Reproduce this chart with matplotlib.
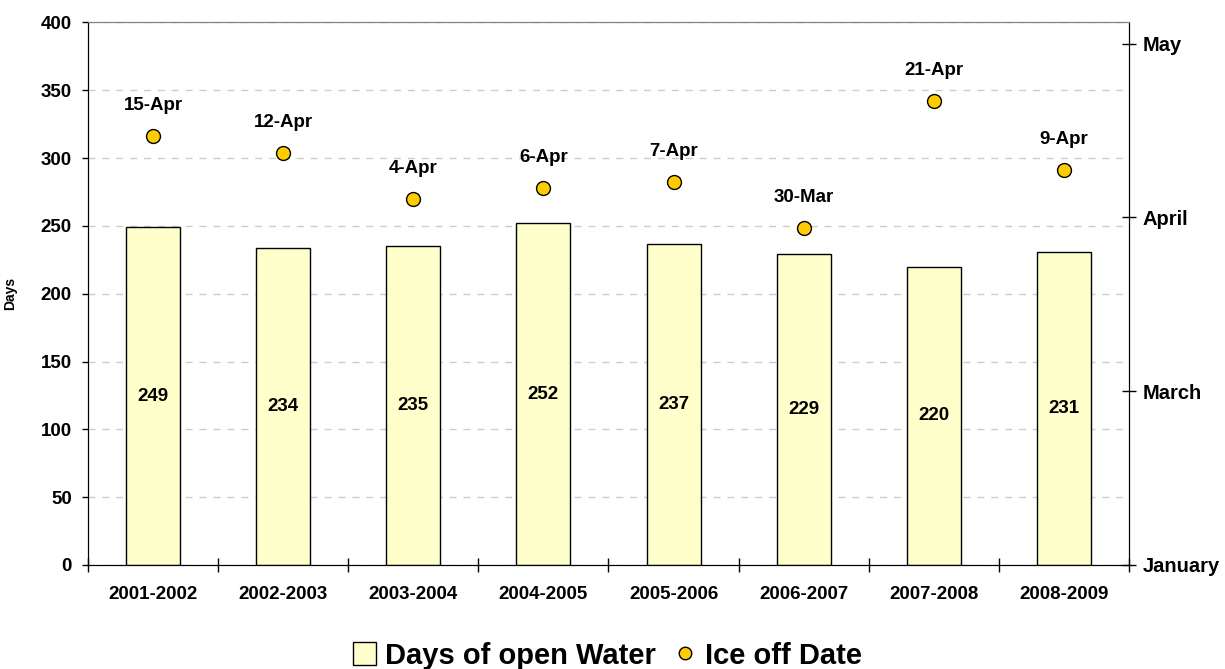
import datetime as dt

import numpy as np
import matplotlib.pyplot as plt
from matplotlib.lines import Line2D
from matplotlib.patches import Patch

plt.rcParams['font.family'] = ['Liberation Sans', 'DejaVu Sans']
plt.rcParams['font.weight'] = 'bold'

# data
seasons = ['2001-2002', '2002-2003', '2003-2004', '2004-2005',
           '2005-2006', '2006-2007', '2007-2008', '2008-2009']
open_days = [249, 234, 235, 252, 237, 229, 220, 231]
ice_off = ['15-Apr', '12-Apr', '4-Apr', '6-Apr', '7-Apr', '30-Mar', '21-Apr', '9-Apr']

# right axis (day of year) ticks and labels
month_ticks = [30.4, 60.6, 90.8, 121.0]
month_labels = ['January', 'March', 'April', 'May']

ice_doy = [dt.datetime.strptime(s + '-2001', '%d-%b-%Y').timetuple().tm_yday for s in ice_off]

fig = plt.figure(figsize=(12.25, 6.69), dpi=100)
ax = fig.add_axes([0.0718, 0.1555, 0.9216 - 0.0718, 0.9664 - 0.1555])
ax2 = ax.twinx()

x = np.arange(len(seasons))
bars = ax.bar(x, open_days, width=0.415, color='#FFFFCC', edgecolor='black',
              linewidth=1, zorder=3)
for xi, v in zip(x, open_days):
    ax.text(xi, v / 2, str(v), ha='center', va='center', fontsize=13.5,
            fontweight='bold', zorder=4)

ax.set_xlim(-0.5, len(seasons) - 0.5)
ax.set_ylim(0, 400)
ax.set_yticks(np.arange(0, 401, 50))
ax.yaxis.grid(True, color='#CCCCCC', linestyle=(0, (5, 5)), linewidth=1, zorder=0)
ax.set_axisbelow(True)
ax.tick_params(axis='y', direction='out', length=4.5, width=1, labelsize=13.5, pad=7)

ax.set_xticks(x)
ax.set_xticklabels(seasons)
ax.set_xticks(np.arange(-0.5, len(seasons)), minor=True)
ax.tick_params(axis='x', which='major', length=0, labelsize=13.5, pad=15)
ax.tick_params(axis='x', which='minor', direction='inout', length=9.5, width=1)

ax.set_ylabel('Days', fontsize=10, fontweight='bold')
ax.yaxis.set_label_coords(-0.068, 0.5)

ax2.plot(x, ice_doy, linestyle='none', marker='o', markersize=10,
         markerfacecolor='#FFCC00', markeredgecolor='black', markeredgewidth=1, zorder=5)
for xi, d, lab in zip(x, ice_doy, ice_off):
    ax2.annotate(lab, (xi, d), xytext=(0, 22), textcoords='offset points',
                 ha='center', va='center', fontsize=13.5, fontweight='bold')
ax2.set_ylim(30.4, 124.7)
ax2.set_yticks(month_ticks)
ax2.set_yticklabels(month_labels)
ax2.tick_params(axis='y', direction='inout', length=9.5, width=1, labelsize=14.5, pad=5)

for a in (ax, ax2):
    a.spines['top'].set_color('#808080')
    a.spines['left'].set_color('black')
    a.spines['right'].set_color('black')
    a.spines['bottom'].set_color('black')

handles = [Patch(facecolor='#FFFFCC', edgecolor='black', linewidth=1),
           Line2D([], [], linestyle='none', marker='o', markersize=9,
                  markerfacecolor='#FFCC00', markeredgecolor='black')]
fig.legend(handles, ['Days of open Water', 'Ice off Date'], loc='center',
           bbox_to_anchor=(0.496, 0.02), ncol=2, frameon=False,
           prop={'size': 21, 'weight': 'bold'}, handlelength=0.8, handleheight=0.8,
           handletextpad=0.3, columnspacing=0.6)

fig.savefig('out.png', dpi=100)
